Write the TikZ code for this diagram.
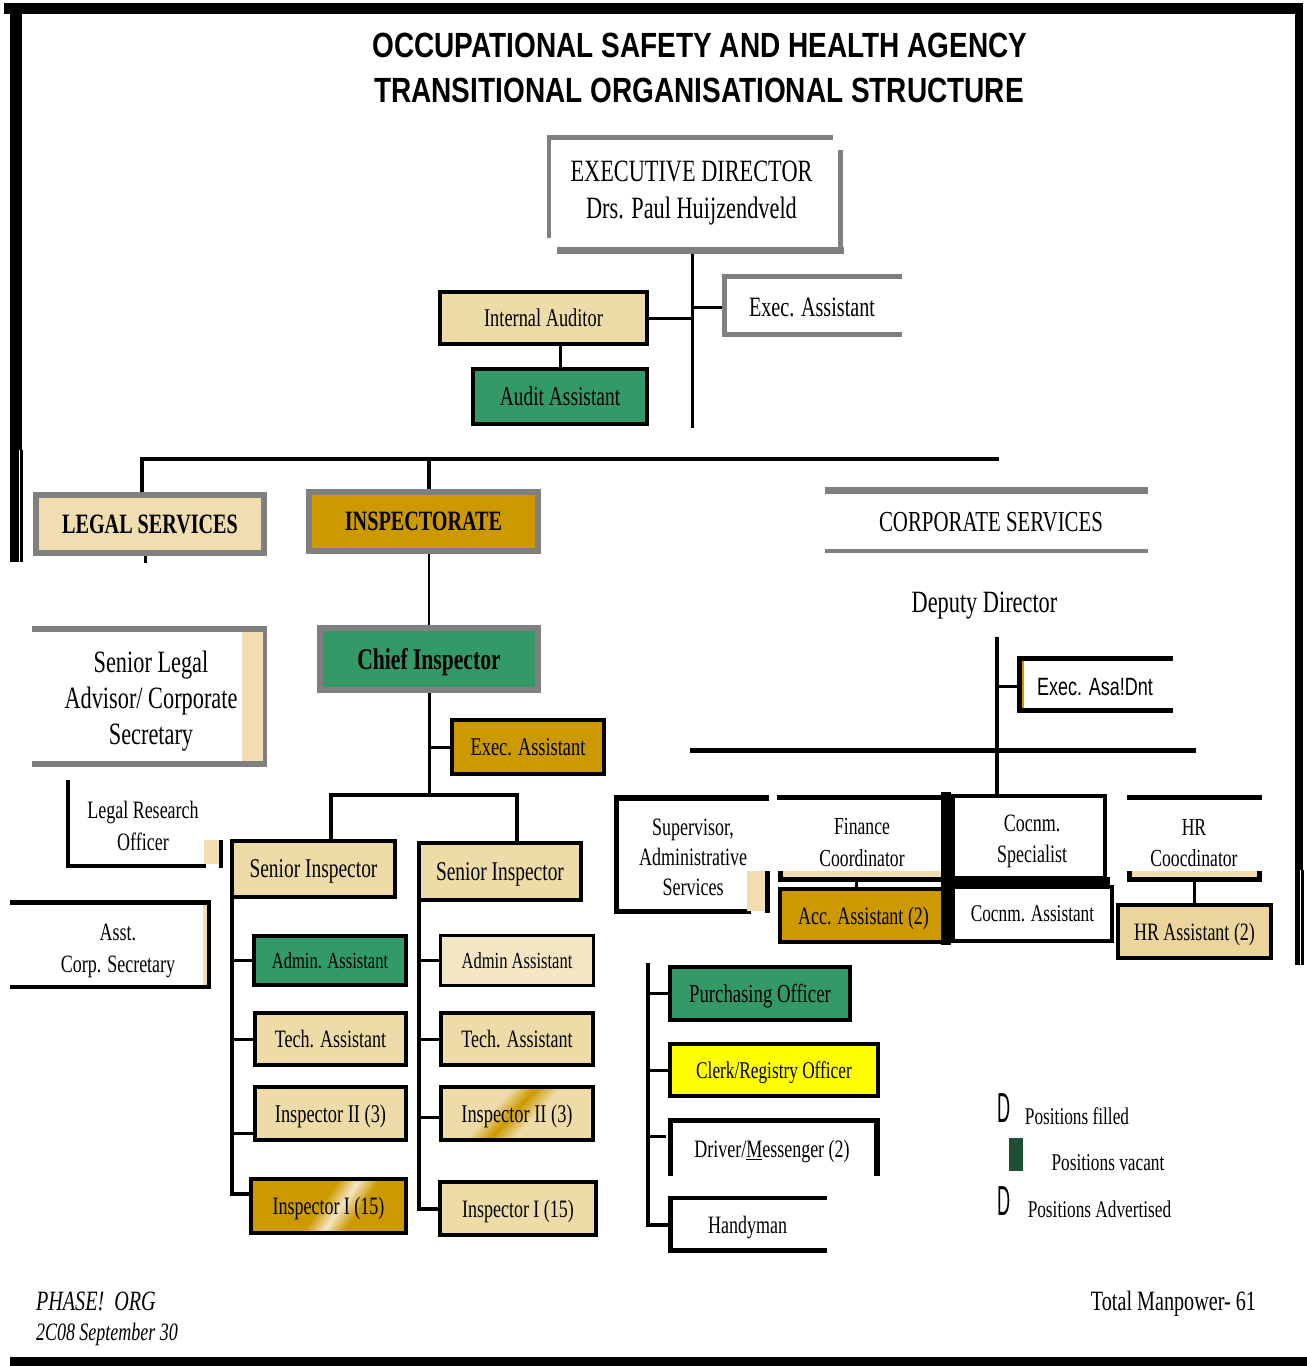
\documentclass[tikz,border=0pt]{standalone}
\usepackage{fontspec}
\usepackage{graphicx}
\setmainfont{Liberation Serif}
\newfontfamily\cser[FakeStretch=0.72]{Liberation Serif}
\newfontfamily\csan[FakeStretch=0.72]{Liberation Sans}
\newfontfamily\ttlf[FakeStretch=0.8]{Liberation Sans}
\newcommand\setsz[2]{\fontsize{#1}{#2}\selectfont}
\definecolor{cBeige}{HTML}{EEDCA8}
\definecolor{cLegal}{HTML}{F0DEB0}
\definecolor{cPale}{HTML}{F3E6C4}
\definecolor{cGold}{HTML}{CC9900}
\definecolor{cGreen}{HTML}{339966}
\definecolor{cGray}{HTML}{808080}
\definecolor{cYellow}{HTML}{FFFF00}
\definecolor{cHR}{HTML}{EBD59C}
\definecolor{cLeg}{HTML}{1E5035}
\pgfdeclarehorizontalshading{streakA}{100bp}{color(0bp)=(cGold); color(47bp)=(cGold); color(54.5bp)=(cPale); color(62bp)=(cGold); color(100bp)=(cGold)}
\pgfdeclarehorizontalshading{streakB}{100bp}{color(0bp)=(cBeige); color(40bp)=(cBeige); color(48.5bp)=(cGold); color(57bp)=(cBeige); color(100bp)=(cBeige)}
\pgfdeclarelayer{back}
\pgfdeclarelayer{bg}
\pgfsetlayers{back,bg,main}
\begin{document}
\begin{tikzpicture}[x=1pt,y=-1pt,
  every node/.style={inner sep=0pt, outer sep=0pt},
  conn/.style={draw=black, line width=3pt, line join=miter},
  bx/.style={draw=black, line width=4pt, align=center, text depth=0pt},
  gbx/.style={draw=cGray, line width=6pt, align=center, text depth=0pt},
  one/.style={text depth=0pt},
  lbl/.style={align=center}]
\useasboundingbox (0,0) rectangle (1307,1366);
\begin{pgfonlayer}{back}
\fill[white] (0,0) rectangle (1307,1366);
\end{pgfonlayer}

% page frame
\fill (4,3) rectangle (1302,14);
\fill (10,3) rectangle (22,450);
\fill (10,450) rectangle (19,562);
\fill (20,450) rectangle (23,562);
\fill (1295,3) rectangle (1303,870);
\fill (1295,870) rectangle (1300,965);
\fill (1301,870) rectangle (1304,965);
\fill (10,1357) rectangle (1307,1366);

% title
\node[font=\ttlf\bfseries\setsz{35}{42}] (title1) at (700,45.5) {OCCUPATIONAL SAFETY AND HEALTH AGENCY};
\node[font=\ttlf\bfseries\setsz{35}{42}] (title2) at (699,90.5) {TRANSITIONAL ORGANISATIONAL STRUCTURE};

% executive director
\fill[cGray] (547,135) rectangle (833,140);
\fill[cGray] (547,135) rectangle (551,238);
\fill[cGray] (838,150) rectangle (843,253);
\fill[cGray] (557,247) rectangle (844,254);
\node[minimum width=296, minimum height=119] (edbox) at (695,194.5) {};
\node[lbl, font=\cser\setsz{31}{37}] (ed) at (691.5,193) {EXECUTIVE DIRECTOR\\Drs. Paul Huijzendveld};
\coordinate (edv) at (692,428);

\node[bx, fill=cBeige, minimum width=207, minimum height=52, font=\cser\setsz{25.5}{30}] (ia) at (543.5,318) {Internal Auditor};
\node[bx, fill=cGreen, minimum width=174, minimum height=55, font=\cser\setsz{27}{30}] (aa) at (560,396.5) {Audit Assistant};

\fill[cGray] (722,274) rectangle (902,279);
\fill[cGray] (722,274) rectangle (727,337);
\fill[cGray] (722,332) rectangle (902,337);
\node[one, minimum width=180, minimum height=63, font=\cser\setsz{28}{30}] (ea0) at (812,307.5) {Exec. Assistant};

% level 1
\coordinate (busl) at (142,459);
\coordinate (busr) at (999,459);
\node[gbx, fill=cLegal, minimum width=228, minimum height=58, font=\cser\bfseries\setsz{28}{30}] (ls) at (150,524) {LEGAL SERVICES};
\node[gbx, fill=cGold, minimum width=229, minimum height=59, font=\cser\bfseries\setsz{28}{30}] (insp) at (423.5,521.5) {INSPECTORATE};
\node[gbx, fill=cGreen, minimum width=218, minimum height=62, font=\cser\bfseries\setsz{30}{32}] (chief) at (429,659) {Chief Inspector};
\node[bx, fill=cGold, minimum width=152, minimum height=54, font=\cser\setsz{25.5}{30}] (ea1) at (528,747) {Exec. Assistant};

\coordinate (b2l) at (331,795);
\coordinate (b2r) at (517,795);
\node[bx, fill=cBeige, minimum width=163, minimum height=56, font=\cser\setsz{27}{30}] (si1) at (313.5,869) {Senior Inspector};
\node[bx, fill=cBeige, minimum width=162, minimum height=57, font=\cser\setsz{27}{30}] (si2) at (500,871.5) {Senior Inspector};

% inspectorate columns
\node[bx, fill=cGreen, minimum width=152, minimum height=49, font=\cser\setsz{23}{28}] (adm1) at (330,960.5) {Admin. Assistant};
\node[bx, fill=cBeige, minimum width=151, minimum height=52, font=\cser\setsz{25}{30}] (tech1) at (330.5,1039) {Tech. Assistant};
\node[bx, fill=cBeige, minimum width=151, minimum height=53, font=\cser\setsz{25.5}{30}] (i2l) at (330.5,1113.5) {Inspector II (3)};
\node[bx, shade, shading=streakA, shading angle=-34.6, minimum width=155, minimum height=54, font=\cser\setsz{25}{30}] (i1l) at (328.5,1206) {Inspector I (15)};
\coordinate (lc) at (232,1194);

\node[bx, line width=3pt, fill=cPale, minimum width=153, minimum height=50, font=\cser\setsz{23}{28}] (adm2) at (517,960.5) {Admin Assistant};
\node[bx, fill=cBeige, minimum width=152, minimum height=52, font=\cser\setsz{25}{30}] (tech2) at (517,1039) {Tech. Assistant};
\node[bx, shade, shading=streakB, shading angle=-42.6, minimum width=152, minimum height=53, font=\cser\setsz{25.5}{30}] (i2r) at (517,1113.5) {Inspector II (3)};
\node[bx, fill=cBeige, minimum width=156, minimum height=53, font=\cser\setsz{25}{30}] (i1r) at (518,1208.5) {Inspector I (15)};

% legal side
\fill[cGray] (32,626) rectangle (267,632);
\fill[cLegal] (242,632) rectangle (263,761);
\fill[cGray] (263,626) rectangle (267,767);
\fill[cGray] (32,761) rectangle (267,767);
\node[lbl, font=\cser\setsz{31}{36}] (sla) at (151,701) {Senior Legal\\Advisor/ Corporate\\Secretary};

\fill (66,780) rectangle (70,868);
\fill (66,864) rectangle (206,868);
\fill[cLegal] (204,840) rectangle (219,864);
\fill (219,840) rectangle (223,868);
\node[lbl, font=\cser\setsz{25}{32}] (lro) at (143,826) {Legal Research\\Officer};

\fill (10,900) rectangle (211,905);
\fill[cLegal] (203,905) rectangle (207,985);
\fill (207,900) rectangle (211,989);
\fill (10,985) rectangle (211,989);
\node[lbl, font=\cser\setsz{25}{32}] (acs) at (118,951) {Asst.\\Corp. Secretary};

% corporate services
\fill[cGray] (825,487) rectangle (1148,494);
\fill[cGray] (825,549) rectangle (1148,553);
\node[one, font=\cser\setsz{29}{30}] (cs) at (991,522) {CORPORATE SERVICES};
\node[one, font=\cser\setsz{31}{32}] (dd) at (984.5,602) {Deputy Director};
\coordinate (cv) at (997,637);

\fill (1017,656) rectangle (1173,661);
\fill (1017,656) rectangle (1022,713);
\fill[cGold] (1022,661) rectangle (1024,708);
\fill (1017,708) rectangle (1173,713);
\node[one, minimum width=156, minimum height=57, font=\csan\setsz{25}{30}] (ea2) at (1095,686.5) {Exec. Asa!Dnt};

\coordinate (b3l) at (690,750);
\coordinate (b3r) at (1196,750);

% supervisor
\fill (614,795) rectangle (769,801);
\fill (614,795) rectangle (619,913);
\fill (614,909) rectangle (751,914);
\fill[cLegal] (747,871) rectangle (765,911);
\fill (765,871) rectangle (770,913);
\node[lbl, font=\cser\setsz{25}{30}] (sup) at (693,857) {Supervisor,\\Administrative\\Services};

% finance
\fill (777,795) rectangle (943,800);
\fill[cLegal] (778,871) rectangle (943,878);
\fill (778,877) rectangle (943,882);
\fill (778,871) rectangle (783,882);
\node[lbl, font=\cser\setsz{24.5}{32}] (fin) at (862,842) {Finance\\Coordinator};
\node[bx, fill=cGold, minimum width=167, minimum height=53, font=\cser\setsz{25}{30}] (acc) at (863.5,915.5) {Acc. Assistant (2)};
\fill (941,792) rectangle (951,945);

% communications
\node[bx, fill=white, minimum width=152, minimum height=82] (csp) at (1029,837) {};
\node[lbl, font=\cser\setsz{25}{31}] (cspt) at (1032,841) {Cocnm.\\Specialist};
\node[bx, fill=white, minimum width=159, minimum height=54, font=\cser\setsz{24}{30}] (cas) at (1032.5,914) {Cocnm. Assistant};
\fill (951,877) rectangle (1110,885);

% HR
\fill (1127,795) rectangle (1262,800);
\fill[cLegal] (1127,871) rectangle (1262,877);
\fill (1127,877) rectangle (1262,882);
\fill (1127,871) rectangle (1132,882);
\fill (1257,871) rectangle (1262,882);
\node[lbl, font=\cser\setsz{24.5}{31}] (hrc) at (1194,843) {HR\\Coocdinator};
\node[bx, fill=cHR, minimum width=153, minimum height=53, font=\cser\setsz{25}{30}] (hra) at (1194.5,931.5) {HR Assistant (2)};

% support staff
\node[bx, fill=cGreen, minimum width=180, minimum height=53, font=\cser\setsz{26}{30}] (po) at (760,993.5) {Purchasing Officer};
\node[bx, fill=cYellow, minimum width=208, minimum height=52, font=\cser\setsz{24}{30}] (clerk) at (774,1070) {Clerk/Registry Officer};
\fill (668,1118) rectangle (880,1123);
\fill (668,1118) rectangle (673,1176);
\fill (874,1118) rectangle (880,1176);
\node[one, minimum width=212, minimum height=58, font=\cser\setsz{25}{30}] (drv) at (772,1149) {Driver/\underline{M}essenger (2)};
\fill (668,1196) rectangle (827,1200);
\fill (668,1196) rectangle (673,1253);
\fill (668,1248) rectangle (827,1253);
\node[one, minimum width=159, minimum height=57, font=\cser\setsz{25}{30}] (hdy) at (747.5,1224.5) {Handyman};
\coordinate (cl) at (648,963);

% legend
\node[font=\csan\setsz{42}{42}] (d1) at (1004.5,1108) {\scalebox{0.6}[1]{D}};
\node[one, font=\cser\setsz{24}{30}] (l1) at (1077,1116) {Positions filled};
\node[fill=cLeg, minimum width=14, minimum height=33] (sw) at (1016,1154.5) {};
\node[one, font=\cser\setsz{24}{30}] (l2) at (1108,1163) {Positions vacant};
\node[font=\csan\setsz{42}{42}] (d2) at (1004.5,1201.5) {\scalebox{0.6}[1]{D}};
\node[one, font=\cser\setsz{24}{30}] (l3) at (1099.5,1209) {Positions Advertised};

% footer
\node[one, font=\cser\itshape\setsz{28}{30}, anchor=west] (ph) at (36,1301) {PHASE!\ \ ORG};
\node[one, font=\cser\itshape\setsz{25}{30}, anchor=west] (dt) at (36,1332) {2C08 September 30};
\node[one, font=\cser\setsz{28}{30}, anchor=east] (tm) at (1256,1301) {Total Manpower- 61};

% connectors
\begin{pgfonlayer}{bg}
\draw[conn] (edv |- edbox.south) -- (edv);
\draw[conn] (ia.east) -- (ia.east -| edv);
\draw[conn] (aa.north) -- (aa.north |- ia.south);
\draw[conn] (ea0.west) -- (ea0.west -| edv);
\draw[conn, line width=4.5pt] (busl |- ls.north) -- (busl) -- (busr);
\draw[conn, line width=4pt] ([xshift=5.5pt]insp.north) -- ([xshift=5.5pt]insp.north |- busl);
\draw[conn] ([xshift=-5pt]ls.south) -- ++(0,10);
\draw[conn, line width=2.5pt] ([xshift=5.5pt]insp.south) -- (chief.north);
\draw[conn] (chief.south) -- (chief.south |- b2l);
\draw[conn] (ea1.west) -- (ea1.west -| chief.south);
\draw[conn, line width=4pt] (b2l |- si1.north) -- (b2l) -- (b2r) -- (b2r |- si2.north);
\draw[conn, line width=4pt] (si1.south west) -- (lc) -- (lc -| i1l.west);
\draw[conn] (adm1.west) -- (adm1.west -| lc);
\draw[conn] (tech1.west) -- (tech1.west -| lc);
\draw[conn] ([yshift=-19.5pt]i2l.west) -- ([yshift=-19.5pt]i2l.west -| lc);
\draw[conn, line width=4pt] (si2.south west) -- (si2.south west |- i1r.west) -- (i1r.west);
\draw[conn] (adm2.west) -- (adm2.west -| si2.south west);
\draw[conn] (tech2.west) -- (tech2.west -| si2.south west);
\draw[conn] ([yshift=-3.5pt]i2r.west) -- ([yshift=-3.5pt]i2r.west -| si2.south west);
\draw[conn, line width=4pt] (cv) -- (cv |- csp.north);
\draw[conn] (ea2.west) -- (ea2.west -| cv);
\draw[conn, line width=5pt] (b3l) -- (b3r);
\draw[conn] ([xshift=-7.5pt]acc.north) -- ++(0,-8);
\draw[conn] (hra.north) -- ++(0,-24);
\draw[conn, line width=4pt] (cl) -- (cl |- hdy.west) -- (hdy.west);
\draw[conn] (po.west) -- (po.west -| cl);
\draw[conn] (clerk.west) -- (clerk.west -| cl);
\draw[conn] ([yshift=13pt]drv.west) -- ([yshift=13pt]drv.west -| cl);
\end{pgfonlayer}
\end{tikzpicture}
\end{document}
